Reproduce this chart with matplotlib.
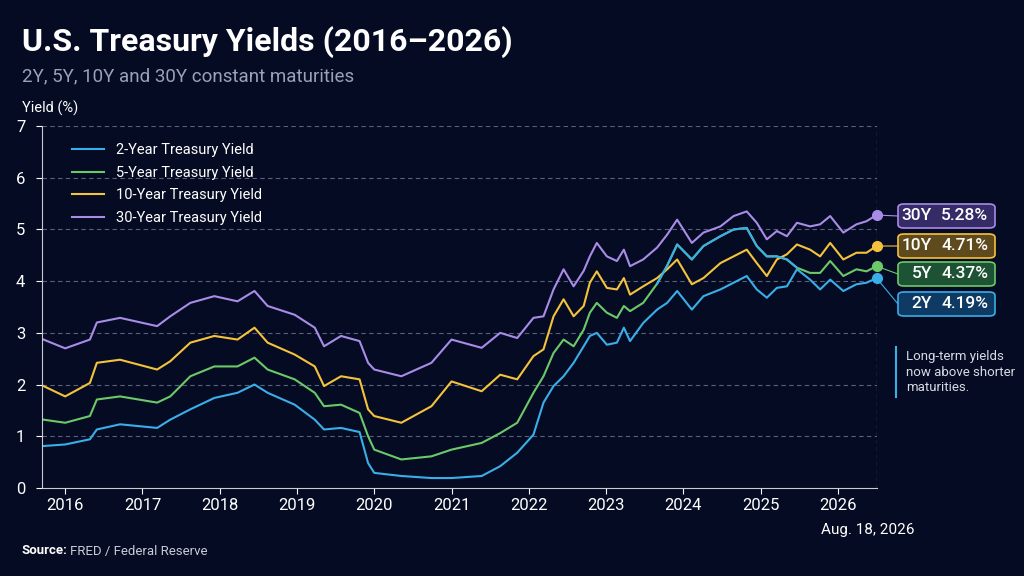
import numpy as np
import matplotlib.pyplot as plt
from matplotlib.patches import FancyBboxPatch

plt.rcParams['font.family'] = ['Roboto', 'DejaVu Sans']

# decimal years
years = [2015.72, 2016.0, 2016.32, 2016.41, 2016.71, 2017.19, 2017.36, 2017.62, 2017.93, 2018.23,
         2018.45, 2018.62, 2018.97, 2019.23, 2019.35, 2019.57, 2019.81, 2019.92, 2020.0, 2020.35,
         2020.74, 2021.0, 2021.39,
         2021.63, 2021.85, 2022.06, 2022.19, 2022.32, 2022.45, 2022.58, 2022.71, 2022.79, 2022.88,
         2023.01, 2023.14, 2023.23, 2023.31, 2023.48, 2023.66, 2023.79, 2023.92, 2024.11, 2024.26,
         2024.48, 2024.65, 2024.82, 2024.95, 2025.08, 2025.21, 2025.34, 2025.47, 2025.64, 2025.77,
         2025.90, 2026.07, 2026.24, 2026.37, 2026.50]

y30 = [2.87, 2.70, 2.87, 3.2, 3.29, 3.13, 3.32, 3.58, 3.71, 3.61, 3.81, 3.52, 3.35, 3.10, 2.74, 2.94,
       2.84, 2.42, 2.29, 2.16, 2.42, 2.87, 2.71,
       3.0, 2.9, 3.29, 3.32, 3.84, 4.23, 3.9, 4.2, 4.48, 4.74, 4.48, 4.39, 4.61, 4.29, 4.42, 4.65, 4.9,
       5.19, 4.74, 4.94, 5.06, 5.26, 5.35, 5.13, 4.81, 4.97, 4.87, 5.13, 5.06, 5.10, 5.26, 4.94, 5.10,
       5.16, 5.28]
y10 = [1.97, 1.77, 2.03, 2.42, 2.48, 2.29, 2.45, 2.81, 2.94, 2.87, 3.10, 2.81, 2.58, 2.35, 1.97, 2.16,
       2.10, 1.52, 1.39, 1.26, 1.58, 2.06, 1.87,
       2.19, 2.10, 2.55, 2.68, 3.32, 3.65, 3.32, 3.52, 3.97, 4.19, 3.87, 3.84, 4.06, 3.74, 3.9, 4.06,
       4.23, 4.42, 3.94, 4.06, 4.35, 4.48, 4.61, 4.35, 4.1, 4.42, 4.52, 4.71, 4.61, 4.48, 4.74, 4.42,
       4.55, 4.55, 4.68]
y5 = [1.32, 1.26, 1.39, 1.71, 1.77, 1.65, 1.77, 2.16, 2.35, 2.35, 2.52, 2.29, 2.10, 1.84, 1.58, 1.61,
      1.45, 1.0, 0.74, 0.55, 0.61, 0.74, 0.87,
      1.06, 1.26, 1.84, 2.16, 2.61, 2.87, 2.74, 3.06, 3.39, 3.58, 3.39, 3.29, 3.52, 3.42, 3.58, 3.95,
      4.3, 4.71, 4.42, 4.68, 4.87, 5.0, 5.03, 4.68, 4.48, 4.48, 4.42, 4.26, 4.16, 4.16, 4.39, 4.1,
      4.23, 4.19, 4.29]
y2 = [0.81, 0.84, 0.94, 1.13, 1.23, 1.16, 1.32, 1.52, 1.74, 1.84, 2.0, 1.84, 1.61, 1.32, 1.13, 1.16,
      1.08, 0.48, 0.29, 0.23, 0.19, 0.19, 0.23,
      0.42, 0.68, 1.03, 1.65, 1.97, 2.16, 2.42, 2.74, 2.94, 3.0, 2.77, 2.81, 3.1, 2.84, 3.19, 3.45,
      3.58, 3.81, 3.45, 3.71, 3.84, 3.97, 4.1, 3.84, 3.68, 3.87, 3.9, 4.23, 4.03, 3.84, 4.03, 3.81,
      3.94, 3.97, 4.06]

names = ['2-Year Treasury Yield', '5-Year Treasury Yield', '10-Year Treasury Yield', '30-Year Treasury Yield']
short = ['2Y', '5Y', '10Y', '30Y']
latest = ['4.19%', '4.37%', '4.71%', '5.28%']
colors = ['#3aaee8', '#6cc96a', '#f4c23c', '#a98be8']
fills = ['#0f3a63', '#1d5234', '#5e4a1c', '#352b66']
cyan_part = (38, 50)  # 5Y stretch drawn in cyan on the reference

bg = '#040b22'
fig = plt.figure(figsize=(10.24, 5.76), dpi=100, facecolor=bg)
ax = fig.add_axes([0.041, 0.153, 0.815, 0.628], facecolor=bg)

series = [y2, y5, y10, y30]
for s, n, c in zip(series, names, colors):
    ax.plot(years, s, color=c, lw=1.5, label=n)
a, b = cyan_part
ax.plot(years[a:b + 1], y5[a:b + 1], color=colors[0], lw=1.5)

ax.set_xlim(2015.70, 2026.50)
ax.set_ylim(0, 7)
ax.set_yticks(range(8))
ax.set_xticks(range(2016, 2027))
ax.tick_params(colors='white', labelsize=12, length=4)
ax.tick_params(axis='y', pad=8)
for y in range(1, 8):
    ax.axhline(y, color='#5a6178', lw=0.8, ls=(0, (4, 3)), zorder=0)
ax.axvline(2026.50, color='#7c8299', lw=0.9, ls=(0, (3, 3)), zorder=0)
for sp in ['top', 'right']:
    ax.spines[sp].set_visible(False)
for sp in ['left', 'bottom']:
    ax.spines[sp].set_color('#c9cbd6')

leg = ax.legend(loc='upper left', bbox_to_anchor=(0.02, 0.99), frameon=False, fontsize=10.5,
                labelcolor='white', handlelength=2.2, labelspacing=0.6)

# end dots, connectors and value boxes
box_y = [304, 274, 246, 216]
for s, sh, val, c, f, by in zip(series, short, latest, colors, fills, box_y):
    ax.plot(years[-1], s[-1], 'o', color=c, ms=7, clip_on=False, zorder=5)
    yb = 1 - by / 576
    xd, yd = fig.transFigure.inverted().transform(ax.transData.transform((years[-1], s[-1])))
    fig.add_artist(plt.Line2D([xd, 898 / 1024], [yd, yb], color=c, lw=0.8))
    fig.add_artist(FancyBboxPatch((898 / 1024, yb - 12 / 576), 97 / 1024, 24 / 576,
                                  boxstyle='round,pad=0,rounding_size=0.006',
                                  fc=f, ec=c, lw=1.2, transform=fig.transFigure))
    fig.text(932 / 1024, yb, sh, color='white', fontsize=12.5, fontweight='medium', ha='right', va='center')
    fig.text(988 / 1024, yb, val, color='white', fontsize=12.5, fontweight='medium', ha='right', va='center')

fig.add_artist(plt.Line2D([896 / 1024, 896 / 1024], [1 - 347 / 576, 1 - 397 / 576], color=colors[0], lw=1.5))
fig.text(906 / 1024, 1 - 372 / 576, 'Long-term yields\nnow above shorter\nmaturities.', color='#d8dbe6',
         fontsize=9.5, va='center', linespacing=1.25)

fig.text(22 / 1024, 1 - 42 / 576, 'U.S. Treasury Yields (2016\u20132026)', color='white',
         fontsize=23, fontweight='bold', va='center')
fig.text(22 / 1024, 1 - 76 / 576, '2Y, 5Y, 10Y and 30Y constant maturities', color='#9aa1b8',
         fontsize=13.5, va='center')
fig.text(22 / 1024, 1 - 108 / 576, 'Yield (%)', color='white', fontsize=10.5, va='center')
fig.text(868 / 1024, 1 - 530 / 576, 'Aug. 18, 2026', color='white', fontsize=11, ha='center', va='center')
fig.text(22 / 1024, 1 - 551 / 576, 'Source:', color='white', fontsize=9.5, fontweight='bold', va='center')
fig.text(70 / 1024, 1 - 551 / 576, 'FRED / Federal Reserve', color='#c9cbd6', fontsize=9.5, va='center')

fig.savefig('out.png', dpi=100, facecolor=bg)
